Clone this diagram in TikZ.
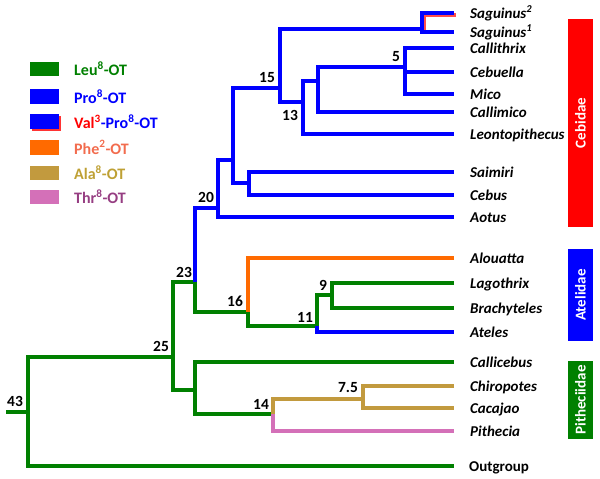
\documentclass[tikz,border=0pt]{standalone}
\usepackage{fontspec}
\setmainfont{Carlito}
\usetikzlibrary{shadows}
\definecolor{cgreen}{RGB}{0,128,0}
\definecolor{cblue}{RGB}{0,0,255}
\definecolor{corange}{RGB}{255,106,0}
\definecolor{ctan}{RGB}{194,154,62}
\definecolor{cpink}{RGB}{212,112,184}
\definecolor{cred}{RGB}{255,0,0}
\definecolor{tphe}{RGB}{242,108,78}
\definecolor{tala}{RGB}{190,160,52}
\definecolor{tthr}{RGB}{150,62,130}
\begin{document}
\begin{tikzpicture}[x=1pt,y=-1pt,
  br/.style={line width=4pt, line join=miter},
  grn/.style={br, draw=cgreen},
  blu/.style={br, draw=cblue},
  org/.style={br, draw=corange},
  tanl/.style={br, draw=ctan},
  pnk/.style={br, draw=cpink},
  leaf/.style={anchor=base west, inner sep=0pt, font=\fontsize{15}{18}\selectfont\bfseries\itshape},
  num/.style={inner sep=0pt, font=\fontsize{15.5}{18}\selectfont\bfseries},
  lbox/.style={minimum width=29pt, minimum height=14.5pt, inner sep=0pt, draw=none},
  ltext/.style={anchor=west, inner sep=0pt, font=\fontsize{16}{19}\selectfont\bfseries},
  fam/.style={rotate=90, minimum height=25pt, inner sep=0pt, text=white, font=\fontsize{15}{18}\selectfont\bfseries}
]
\useasboundingbox (0,0) rectangle (600,479);

% ---- leaf tips
\coordinate (tSag2) at (454,13);
\coordinate (tSag1) at (454,32);
\coordinate (tCth) at (454,48);
\coordinate (tCeb2) at (454,72);
\coordinate (tMic) at (454,94);
\coordinate (tCim) at (454,112);
\coordinate (tLeo) at (454,134);
\coordinate (tSai) at (454,172);
\coordinate (tCeb) at (454,195);
\coordinate (tAot) at (454,217);
\coordinate (tAlo) at (454,258);
\coordinate (tLag) at (454,283);
\coordinate (tBra) at (454,308);
\coordinate (tAte) at (454,332);
\coordinate (tCal) at (454,362);
\coordinate (tChi) at (454,386);
\coordinate (tCac) at (454,408);
\coordinate (tPit) at (454,431);
\coordinate (tOut) at (454,466);

% ---- internal nodes (x of vertical, y of entry)
\coordinate (root) at (6,412);
\coordinate (n43) at (28,412);
\coordinate (n25) at (173,357);
\coordinate (n23) at (195,282);
\coordinate (nPit) at (195,390);
\coordinate (n14) at (273,414);
\coordinate (n75) at (363,399);
\coordinate (n16) at (248,312);
\coordinate (n11) at (317,326);
\coordinate (n9) at (332,295);
\coordinate (n20) at (218,208);
\coordinate (nA) at (233,160);
\coordinate (nSC) at (249,183);
\coordinate (n15) at (280,88);
\coordinate (nSag) at (422,29);
\coordinate (n13) at (303,102);
\coordinate (nB) at (318,81);
\coordinate (n5) at (405,67);

% ---- branches
\draw[grn] (root) -- (n43);
\draw[grn] (n25) -| (n43) |- (tOut);
\draw[grn] (n23) -| (n25) |- (nPit);
\draw[grn] (tCal) -| (nPit) |- (n14);
\draw[tanl] (n75) -| (n14);
\draw[pnk] (n14) |- (tPit);
\draw[tanl] (tChi) -| (n75) |- (tCac);
\draw[blu] (n20) -| (n23);
\draw[grn] (n23) |- (n16);
\draw[org] (tAlo) -| (n16);
\draw[grn] (n16) |- (n11);
\draw[grn] (n9) -| (n11);
\draw[blu] (n11) |- (tAte);
\draw[grn] (tLag) -| (n9) |- (tBra);
\draw[blu] (nA) -| (n20) |- (tAot);
\draw[blu] (n15) -| (nA) |- (nSC);
\draw[blu] (tSai) -| (nSC) |- (tCeb);
\draw[blu] (nSag) -| (n15) |- (n13);
\draw[br, draw=cred, opacity=0.7] ([xshift=1.8pt,yshift=-1.8pt]tSag2) -| ([xshift=1.8pt,yshift=-1.8pt]nSag);
\draw[blu] (tSag2) -| (nSag) |- (tSag1);
\draw[blu] (nB) -| (n13) |- (tLeo);
\draw[blu] (n5) -| (nB) |- (tCim);
\draw[blu] (tCth) -| (n5) |- (tMic);
\draw[blu] (tCeb2) -| (n5);

% ---- leaf labels
\node[leaf] (lSag2) at (470,18) {Saguinus\textsuperscript{2}};
\node[leaf] (lSag1) at (470,37) {Saguinus\textsuperscript{1}};
\node[leaf] (lCth) at (470,53) {Callithrix};
\node[leaf] (lCeb2) at (470,77) {Cebuella};
\node[leaf] (lMic) at (470,99) {Mico};
\node[leaf] (lCim) at (470,117) {Callimico};
\node[leaf] (lLeo) at (470,139) {Leontopithecus};
\node[leaf] (lSai) at (470,177) {Saimiri};
\node[leaf] (lCeb) at (470,200) {Cebus};
\node[leaf] (lAot) at (470,222) {Aotus};
\node[leaf] (lAlo) at (470,263) {Alouatta};
\node[leaf] (lLag) at (470,288) {Lagothrix};
\node[leaf] (lBra) at (470,313) {Brachyteles};
\node[leaf] (lAte) at (470,337) {Ateles};
\node[leaf] (lCal) at (470,367) {Callicebus};
\node[leaf] (lChi) at (470,391) {Chiropotes};
\node[leaf] (lCac) at (470,413) {Cacajao};
\node[leaf] (lPit) at (470,436) {Pithecia};
\node[leaf, font=\fontsize{15}{18}\selectfont\bfseries] (lOut) at (469,471) {Outgroup};

% ---- node values
\node[num] (v43) at (15,401) {43};
\node[num] (v25) at (161,346) {25};
\node[num] (v23) at (184,272) {23};
\node[num] (v16) at (235,301) {16};
\node[num] (v14) at (261,404) {14};
\node[num] (v75) at (348,388) {7.5};
\node[num] (v11) at (305,317) {11};
\node[num] (v9) at (323,285) {9};
\node[num] (v20) at (206,197) {20};
\node[num] (v15) at (267,78) {15};
\node[num] (v13) at (290,115) {13};
\node[num] (v5) at (396,57) {5};

% ---- legend
\node[lbox, fill=cgreen] (kLeu) at (44.5,69) {};
\node[lbox, fill=cblue] (kPro) at (44.5,96.5) {};
\node[lbox, fill=cblue, drop shadow={shadow xshift=1.5pt, shadow yshift=-2pt, fill=cred, opacity=0.8}] (kVal) at (44.5,121.5) {};
\node[lbox, fill=corange] (kPhe) at (44.5,147.5) {};
\node[lbox, fill=ctan] (kAla) at (44.5,173) {};
\node[lbox, fill=cpink] (kThr) at (44.5,197) {};
\node[ltext, text=cgreen] (xLeu) at (74,69) {Leu\textsuperscript{8}-OT};
\node[ltext, text=cblue] (xPro) at (74,96.5) {Pro\textsuperscript{8}-OT};
\node[ltext, text=cblue] (xVal) at (74,121.5) {\textcolor{cred}{Val\textsuperscript{3}}-Pro\textsuperscript{8}-OT};
\node[ltext, text=tphe] (xPhe) at (74,147.5) {Phe\textsuperscript{2}-OT};
\node[ltext, text=tala] (xAla) at (74,173) {Ala\textsuperscript{8}-OT};
\node[ltext, text=tthr] (xThr) at (74,197) {Thr\textsuperscript{8}-OT};

% ---- family bars
\node[fam, fill=cred, minimum width=208pt] (fCeb) at (580.5,123) {Cebidae};
\node[fam, fill=cblue, minimum width=92pt] (fAte) at (580.5,295) {Atelidae};
\node[fam, fill=cgreen, minimum width=78pt] (fPit) at (580.5,400) {Pitheciidae};
\end{tikzpicture}
\end{document}
